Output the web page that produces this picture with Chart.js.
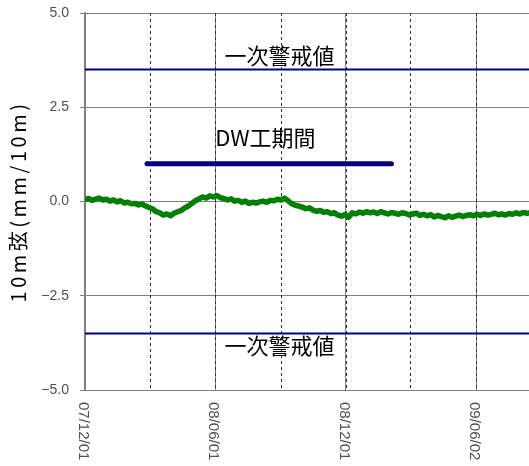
<!DOCTYPE html>
<html>
<head>
<meta charset="utf-8">
<script src="https://cdn.jsdelivr.net/npm/chart.js@4/dist/chart.umd.min.js"></script>
<style>
  html, body { margin: 0; padding: 0; background: #fff; }
  #wrap { width: 529px; height: 466px; }
</style>
</head>
<body>
<div id="wrap"><canvas id="c" width="529" height="466"></canvas></div>
<script>
// Day axis: day 0 = 2007/12/01
const tickDays   = [0, 183, 366, 549];
const tickLabels = ['07/12/01', '08/06/01', '08/12/01', '09/06/02'];
const quarterDays = [91, 183, 275, 366, 456, 549];
const dayMax = 623;

const yTickValues = [-5, -2.5, 0, 2.5, 5];
const yTickLabels = ['\u22125.0', '\u22122.5', '0.0', '2.5', '5.0'];
const yTitle = '10m弦(mm/10m)';

// 10m chord deflection (mm/10m), one reading every 5 days from 2007/12/01
const dayStep = 5;
const deflection = [
  0.05, 0.08, 0.03, 0.06, 0.09, 0.04, 0.06, 0.01, 0.04, -0.01,
  0.02, -0.04, -0.02, -0.06, -0.05, -0.09, -0.07, -0.12, -0.16, -0.20,
  -0.27, -0.30, -0.36, -0.33, -0.38, -0.31, -0.27, -0.24, -0.17, -0.12,
  -0.05, 0.02, 0.07, 0.12, 0.09, 0.15, 0.12, 0.16, 0.10, 0.08,
  0.04, 0.07, 0.01, 0.03, -0.02, 0.01, -0.05, -0.02, -0.04, -0.01,
  0.01, -0.02, 0.03, 0.02, 0.06, 0.04, 0.09, 0.02, -0.06, -0.10,
  -0.12, -0.15, -0.19, -0.17, -0.23, -0.26, -0.24, -0.29, -0.27, -0.32,
  -0.30, -0.36, -0.39, -0.34, -0.42, -0.30, -0.33, -0.28, -0.31, -0.27,
  -0.30, -0.28, -0.32, -0.27, -0.30, -0.33, -0.29, -0.31, -0.34, -0.30,
  -0.32, -0.36, -0.33, -0.31, -0.37, -0.34, -0.38, -0.35, -0.41, -0.37,
  -0.40, -0.43, -0.38, -0.42, -0.39, -0.36, -0.40, -0.37, -0.35, -0.38,
  -0.34, -0.37, -0.33, -0.36, -0.34, -0.31, -0.35, -0.33, -0.36, -0.32,
  -0.34, -0.30, -0.33, -0.29, -0.31, -0.30
];

// First alert level (upper / lower) and the DW construction period
const alertLevels = [3.5, -3.5];
const alertLabel = '一次警戒値';
const dwPeriodDays = [87, 430];
const dwLevel = 1.0;
const dwLabel = 'DW工期間';

const seriesPoints = deflection.map((v, i) => ({ x: i * dayStep, y: v }));

const NAVY = '#000080';
const GREEN = '#008000';
const GRID = '#808080';
const TICK_TEXT = '#505050';

// Dashed quarter lines, rotated date labels, axis title and in-plot captions
const overlayPlugin = {
  id: 'overlay',
  beforeDatasetsDraw(chart) {
    const { ctx, chartArea, scales } = chart;
    ctx.save();
    ctx.strokeStyle = '#303030';
    ctx.lineWidth = 1;
    ctx.setLineDash([3, 3]);
    quarterDays.forEach(d => {
      const x = Math.round(scales.x.getPixelForValue(d)) + 0.5;
      ctx.beginPath();
      ctx.moveTo(x, chartArea.top);
      ctx.lineTo(x, chartArea.bottom);
      ctx.stroke();
    });
    ctx.restore();
  },
  afterDatasetsDraw(chart) {
    const { ctx, chartArea, scales } = chart;
    ctx.save();
    // captions
    ctx.fillStyle = '#000';
    ctx.font = '22px "Noto Sans CJK JP"';
    ctx.textAlign = 'center';
    ctx.textBaseline = 'middle';
    const captions = [
      { text: alertLabel, x: 273, y: 3.88 },
      { text: alertLabel, x: 273, y: -3.82 },
      { text: dwLabel, x: 253, y: 1.7 }
    ];
    captions.forEach(c => {
      ctx.fillText(c.text, scales.x.getPixelForValue(c.x), scales.y.getPixelForValue(c.y));
    });
    // y axis title, reading bottom to top
    ctx.save();
    ctx.font = '20px "Noto Sans CJK JP"';
    ctx.letterSpacing = '3.5px';
    ctx.textAlign = 'center';
    ctx.translate(18, (chartArea.top + chartArea.bottom) / 2);
    ctx.rotate(-Math.PI / 2);
    ctx.fillText(yTitle, 0, 0);
    ctx.restore();
    // date labels, reading top to bottom
    ctx.fillStyle = TICK_TEXT;
    ctx.font = '15px "Liberation Sans", Arial, sans-serif';
    ctx.textAlign = 'left';
    ctx.textBaseline = 'middle';
    tickDays.forEach((d, i) => {
      const x = scales.x.getPixelForValue(d) - 2;
      ctx.save();
      ctx.translate(x, chartArea.bottom + 12);
      ctx.rotate(Math.PI / 2);
      ctx.fillText(tickLabels[i], 0, 0);
      ctx.restore();
    });
    ctx.restore();
  }
};

new Chart(document.getElementById('c'), {
  type: 'line',
  data: {
    datasets: [
      ...alertLevels.map(level => ({
        data: [{ x: 0, y: level }, { x: dayMax, y: level }],
        borderColor: NAVY,
        borderWidth: 2,
        pointRadius: 0
      })),
      {
        data: [{ x: dwPeriodDays[0], y: dwLevel }, { x: dwPeriodDays[1], y: dwLevel }],
        borderColor: NAVY,
        borderWidth: 5,
        borderCapStyle: 'round',
        pointRadius: 0
      },
      {
        data: seriesPoints,
        borderColor: GREEN,
        borderWidth: 5.5,
        borderJoinStyle: 'round',
        pointRadius: 0,
        tension: 0
      }
    ]
  },
  options: {
    responsive: false,
    animation: false,
    events: [],
    layout: { padding: { top: 13, right: 0, bottom: 0, left: 0 } },
    plugins: { legend: { display: false }, tooltip: { enabled: false } },
    scales: {
      x: {
        type: 'linear',
        min: 0,
        max: dayMax,
        afterBuildTicks(scale) { scale.ticks = tickDays.map(v => ({ value: v })); },
        afterFit(scale) { scale.height = 76; scale.paddingLeft = 0; scale.paddingRight = 0; },
        ticks: { display: false },
        grid: { color: GRID, lineWidth: 1, drawTicks: false },
        border: { color: GRID, width: 1 }
      },
      y: {
        min: -5,
        max: 5,
        afterBuildTicks(scale) { scale.ticks = yTickValues.map(v => ({ value: v })); },
        afterFit(scale) { scale.width = 85; scale.paddingTop = 0; scale.paddingBottom = 0; },
        ticks: {
          color: TICK_TEXT,
          font: { family: '"Liberation Sans", Arial, sans-serif', size: 14 },
          padding: 11,
          callback: v => yTickLabels[yTickValues.indexOf(v)]
        },
        grid: { color: GRID, lineWidth: 1, tickLength: 5 },
        border: { color: GRID, width: 1.5 }
      }
    }
  },
  plugins: [overlayPlugin]
});
</script>
</body>
</html>
